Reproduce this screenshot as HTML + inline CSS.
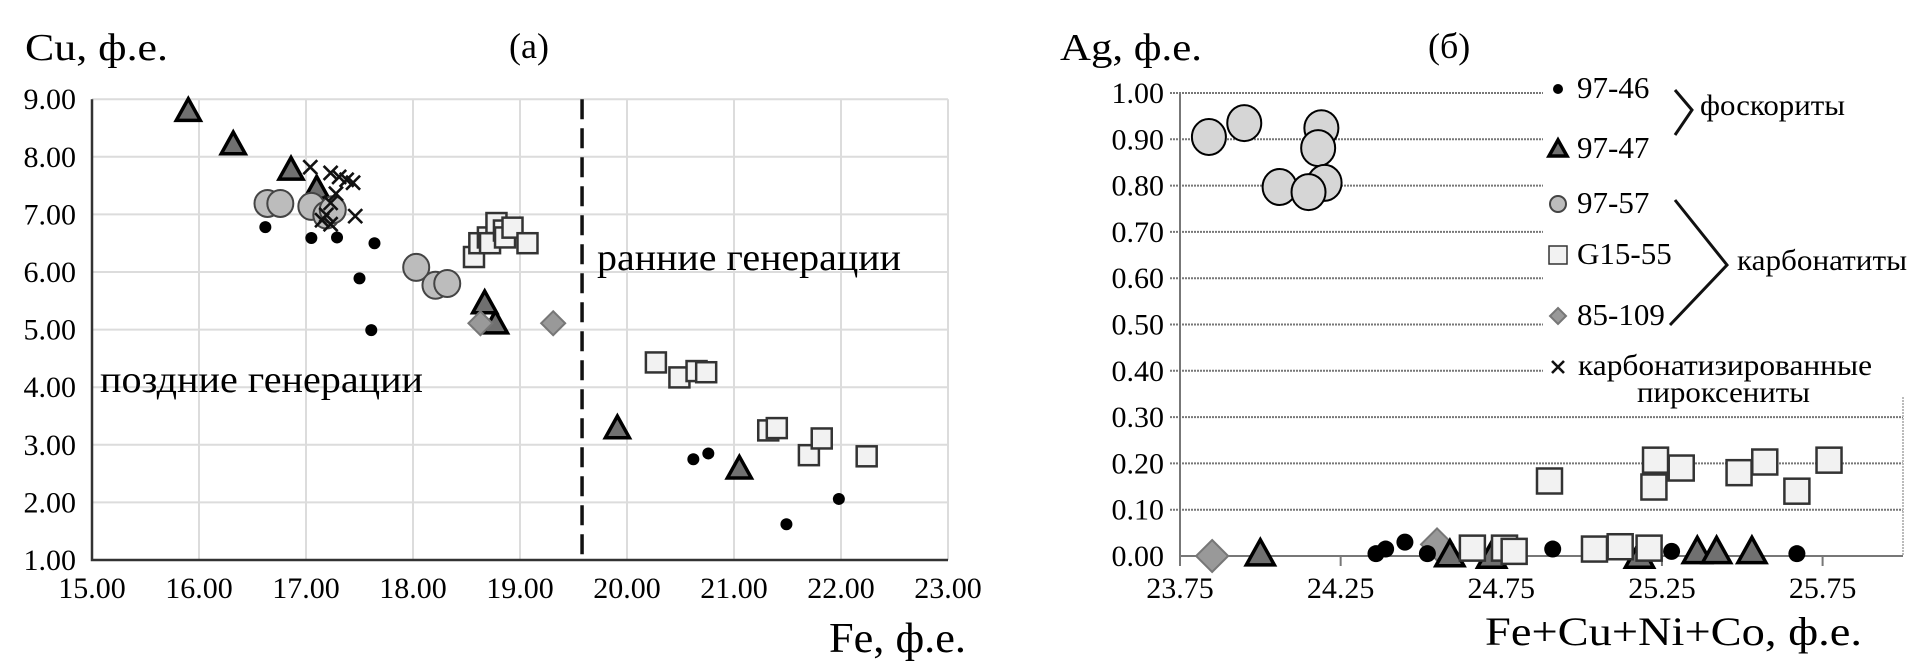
<!DOCTYPE html>
<html><head><meta charset="utf-8"><style>
html,body{margin:0;padding:0;background:#fff;}
svg{display:block;}
text{font-family:"Liberation Serif","Times New Roman","DejaVu Serif",serif;}
</style></head><body>
<svg id="c" width="1923" height="672" viewBox="0 0 1923 672" font-family="Liberation Serif, serif">
<g id="left"></g>
<g id="right"></g>
<g>
<text x="25" y="60" font-size="38" textLength="143" lengthAdjust="spacingAndGlyphs">Cu, ф.е.</text>
<text x="509" y="58" font-size="36">(a)</text>
<text x="829" y="652" font-size="42" textLength="137" lengthAdjust="spacingAndGlyphs">Fe, ф.е.</text>
<text x="597" y="270" font-size="38" textLength="304" lengthAdjust="spacingAndGlyphs">ранние генерации</text>
<text x="100" y="392" font-size="38" textLength="323" lengthAdjust="spacingAndGlyphs">поздние генерации</text>
<text x="1060" y="60" font-size="38" textLength="142" lengthAdjust="spacingAndGlyphs">Ag, ф.е.</text>
<text x="1428" y="58" font-size="36">(б)</text>
<text x="1485" y="645" font-size="40" textLength="377" lengthAdjust="spacingAndGlyphs">Fe+Cu+Ni+Co, ф.е.</text>
</g>
<g id="legend">
<text x="1577" y="98" font-size="31">97-46</text>
<text x="1577" y="158" font-size="31">97-47</text>
<text x="1577" y="213" font-size="31">97-57</text>
<text x="1577" y="264" font-size="31">G15-55</text>
<text x="1577" y="325" font-size="31">85-109</text>
<text x="1578" y="375" font-size="30" textLength="294" lengthAdjust="spacingAndGlyphs">карбонатизированные</text>
<text x="1637" y="402" font-size="30" textLength="173" lengthAdjust="spacingAndGlyphs">пироксениты</text>
<polyline points="1675,90 1692,110 1675,135" fill="none" stroke="#111" stroke-width="3"/>
<text x="1700" y="115" font-size="30" textLength="145" lengthAdjust="spacingAndGlyphs">фоскориты</text>
<polyline points="1675,200 1727,265 1670,325" fill="none" stroke="#111" stroke-width="3"/>
<text x="1737" y="270" font-size="30" textLength="170" lengthAdjust="spacingAndGlyphs">карбонатиты</text>
</g>
</svg>
<script>
// ---- Chart (a) data ----
const xTicksA=["15.00","16.00","17.00","18.00","19.00","20.00","21.00","22.00","23.00"];
const yTicksA=["1.00","2.00","3.00","4.00","5.00","6.00","7.00","8.00","9.00"];
const fe46=[16.62,17.05,17.29,17.64,17.50,17.61,17.27,20.62,20.76,21.98,21.49];
const cu46=[6.78,6.59,6.60,6.50,5.89,4.99,7.10,2.75,2.85,2.06,1.62];
const fe47=[15.90,16.32,16.86,17.10,18.67,18.77,19.91,21.05];
const cu47=[8.80,8.22,7.78,7.45,5.46,5.11,3.29,2.59];
const fe57=[16.64,16.76,17.05,17.19,17.25,18.03,18.21,18.32];
const cu57=[7.19,7.19,7.14,6.99,7.08,6.08,5.77,5.80];
const feG=[18.57,18.62,18.70,18.72,18.78,18.85,18.86,18.93,19.07,20.27,20.49,20.65,20.74,21.32,21.40,21.70,21.82,22.24];
const cuG=[6.26,6.50,6.60,6.50,6.85,6.72,6.60,6.77,6.50,4.43,4.17,4.28,4.26,3.25,3.29,2.82,3.11,2.80];
const fe85=[18.63,19.31];
const cu85=[5.11,5.11];
const feX=[17.04,17.23,17.31,17.38,17.44,17.28,17.23,17.19,17.23,17.15,17.46];
const cuX=[7.82,7.72,7.65,7.60,7.55,7.36,7.20,6.99,6.83,6.90,6.97];
const boundaryFe=19.58;
// ---- Chart (b) data ----
const xTicksB=["23.75","24.25","24.75","25.25","25.75"];
const yTicksB=["0.00","0.10","0.20","0.30","0.40","0.50","0.60","0.70","0.80","0.90","1.00"];
const s46=[24.36,24.39,24.45,24.52,24.91,25.28,25.67];
const a46=[0.005,0.015,0.03,0.005,0.015,0.01,0.005];
const s47=[24.00,24.59,24.72,25.18,25.36,25.42,25.53];
const a47=[0.005,0.003,0.0,0.0,0.01,0.01,0.01];
const s57=[23.84,23.95,24.19,24.18,24.06,24.20,24.15];
const a57=[0.905,0.935,0.924,0.881,0.797,0.806,0.786];
const sG=[24.66,24.76,24.79,25.04,25.12,25.21,24.90,25.23,25.31,25.225,25.49,25.57,25.67,25.77];
const aG=[0.017,0.017,0.01,0.015,0.02,0.017,0.162,0.207,0.19,0.149,0.18,0.203,0.14,0.207];
const s85=[23.85,24.55];
const a85=[0.0,0.025];

const NS="http://www.w3.org/2000/svg";
function mk(parent,tag,attrs){const e=document.createElementNS(NS,tag);for(const k in attrs)e.setAttribute(k,attrs[k]);parent.appendChild(e);return e;}

const xA=v=>92+(v-15)*107;
const yA=v=>560-(v-1)*57.6;
const xB=v=>1180+(v-23.75)*321.3;
const yB=v=>556-v*463;

const L=document.getElementById('left');
const R=document.getElementById('right');

function marker(g,type,cx,cy,big){
  let e;
  if(type==='dot'){e=mk(g,'circle',{cx:cx,cy:cy,r:big?8.5:6,fill:'#000'});}
  else if(type==='tri'){const s=big?14:12;e=mk(g,'polygon',{points:`${cx},${cy-s} ${cx+s},${cy+s*0.8} ${cx-s},${cy+s*0.8}`,fill:'#707070',stroke:'#000','stroke-width':3.5});}
  else if(type==='circ'){e=mk(g,'ellipse',{cx:cx,cy:cy,rx:big?17:13,ry:big?18:13.5,fill:big?'#d6d6d6':'#bcbcbc',stroke:big?'#000':'#444','stroke-width':2});}
  else if(type==='sq'){const s=big?12.5:10;e=mk(g,'rect',{x:cx-s,y:cy-s,width:2*s,height:2*s,fill:'#f2f2f2',stroke:'#333','stroke-width':2.5});}
  else if(type==='dia'){const s=big?16:12;e=mk(g,'polygon',{points:`${cx},${cy-s} ${cx+s},${cy} ${cx},${cy+s} ${cx-s},${cy}`,fill:'#999',stroke:'#777','stroke-width':2});}
  else if(type==='x'){const s=big?6:7;e=mk(g,'path',{d:`M${cx-s},${cy-s}L${cx+s},${cy+s}M${cx+s},${cy-s}L${cx-s},${cy+s}`,stroke:'#111','stroke-width':2.6,fill:'none'});}
  return e;
}

xTicksA.forEach((t,i)=>{
  const v=parseFloat(t);
  const ln=mk(L,'line',{x1:xA(v),x2:xA(v),y1:yA(9),y2:yA(1),stroke:'#dcdcdc','stroke-width':2});
  
  
  const tx=mk(L,'text',{x:xA(v),y:598,'font-size':30,'text-anchor':'middle'});
  tx.textContent=t;
  
  
});
yTicksA.forEach((t,i)=>{
  const v=parseFloat(t);
  const ln=mk(L,'line',{x1:xA(15),x2:xA(23),y1:yA(v),y2:yA(v),stroke:'#dcdcdc','stroke-width':2});
  
  
  const tx=mk(L,'text',{x:76,y:yA(v)+10,'font-size':30,'text-anchor':'end'});
  tx.textContent=t;
  
  
});
const axA=mk(L,'path',{d:`M${xA(15)},${yA(9)}L${xA(15)},${yA(1)}L${xA(23)},${yA(1)}`,stroke:'#333','stroke-width':2.5,fill:'none'});


const bnd=mk(L,'line',{x1:xA(boundaryFe),x2:xA(boundaryFe),y1:yA(9),y2:yA(1),stroke:'#111','stroke-width':3.5,'stroke-dasharray':'20,9'});



function seriesA(xs,ys,type,name){
  const g=mk(L,'g',{});
  
  
  xs.forEach((v,i)=>{const m=marker(g,type,xA(v),yA(ys[i]),false);
    
    });
}
seriesA(fe46,cu46,'dot','series-a-97-46');
seriesA(fe47,cu47,'tri','series-a-97-47');
seriesA(fe57,cu57,'circ','series-a-97-57');
seriesA(feG,cuG,'sq','series-a-g15-55');
seriesA(fe85,cu85,'dia','series-a-85-109');
seriesA(feX,cuX,'x','series-a-carbonatized');

yTicksB.forEach((t,i)=>{
  const v=parseFloat(t);
  if(v>0){
    const ln=mk(R,'line',{x1:1170,x2:v>=0.35?1543:1903,y1:yB(v),y2:yB(v),stroke:'#777','stroke-width':2,'stroke-dasharray':'2,1'});
    
    
  }
  const tx=mk(R,'text',{x:1164,y:yB(v)+10,'font-size':30,'text-anchor':'end'});
  tx.textContent=t;
  
  
});
xTicksB.forEach((t,i)=>{
  const v=parseFloat(t);
  const tk=mk(R,'line',{x1:xB(v),x2:xB(v),y1:yB(0),y2:yB(0)+10,stroke:'#777','stroke-width':2});
  
  
  const tx=mk(R,'text',{x:xB(v),y:598,'font-size':30,'text-anchor':'middle'});
  tx.textContent=t;
  
  
});
const axB=mk(R,'path',{d:`M${xB(23.75)},${yB(1)}L${xB(23.75)},${yB(0)}L1903,${yB(0)}`,stroke:'#777','stroke-width':2,fill:'none'});


const brd=mk(R,'line',{x1:1903,x2:1903,y1:397,y2:yB(0),stroke:'#bbb','stroke-width':2,'stroke-dasharray':'2,1'});



function seriesB(xs,ys,type,name){
  const g=mk(R,'g',{});
  
  
  xs.forEach((v,i)=>{const m=marker(g,type,xB(v),yB(ys[i]),true);
    
    });
}
seriesB(s85,a85,'dia','series-b-85-109');
seriesB(s46,a46,'dot','series-b-97-46');
seriesB(s47,a47,'tri','series-b-97-47');
seriesB(s57,a57,'circ','series-b-97-57');
seriesB(sG,aG,'sq','series-b-g15-55');

const LG=document.getElementById('legend');
const legTypes=['dot','tri','circ','sq','dia','x'];
const legY=[89,149,204,255,316,367];
legTypes.forEach((t,i)=>{
  const m=marker(LG,t,1558,legY[i],false);
  if(t==='dot')m.setAttribute('r',5);
  if(t==='tri')m.setAttribute('points',`1558,${legY[i]-9} 1567,${legY[i]+7} 1549,${legY[i]+7}`);
  if(t==='circ'){m.setAttribute('rx',8);m.setAttribute('ry',8);}
  if(t==='sq'){m.setAttribute('x',1549);m.setAttribute('y',legY[i]-9);m.setAttribute('width',18);m.setAttribute('height',18);m.setAttribute('stroke-width',1.5);}
  if(t==='dia')m.setAttribute('points',`1558,${legY[i]-8} 1566,${legY[i]} 1558,${legY[i]+8} 1550,${legY[i]}`);
  if(t==='x')m.setAttribute('d',`M1552,${legY[i]-6}L1564,${legY[i]+6}M1564,${legY[i]-6}L1552,${legY[i]+6}`);
  
  
});
</script>
</body></html>
